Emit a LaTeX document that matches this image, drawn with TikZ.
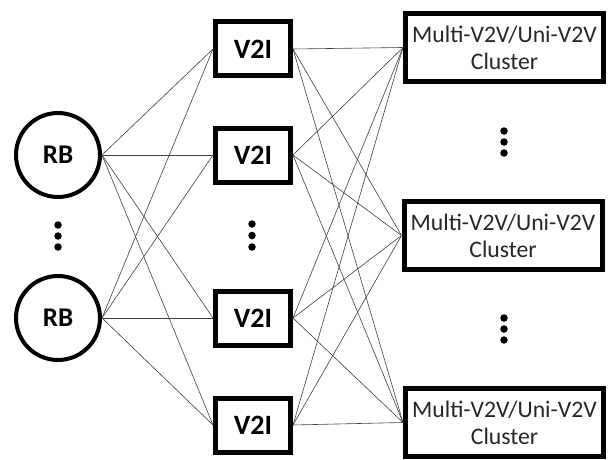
\documentclass[tikz,border=0pt]{standalone}
\usepackage{fontspec}
\setmainfont{Carlito}
\begin{document}
\begin{tikzpicture}[x=1pt,y=-1pt,
  rbnode/.style={circle,draw,line width=4pt,minimum size=84pt,inner sep=0pt,font=\fontsize{27}{32}\selectfont\bfseries},
  vnode/.style={rectangle,draw,line width=5pt,minimum width=75pt,minimum height=54pt,inner sep=0pt,font=\fontsize{28}{32}\selectfont\bfseries},
  cnode/.style={rectangle,draw,line width=5pt,minimum width=198pt,minimum height=68pt,inner sep=0pt,align=center,text=black!85,font=\fontsize{23.7}{27}\selectfont},
  link/.style={draw=black!75,line width=0.6pt},
  vdot/.style={circle,fill=black,inner sep=0pt,minimum size=7.5pt}]
\useasboundingbox (0,0) rectangle (608,460);
\node[rbnode] (rb1) at (58,155) {RB};
\node[rbnode] (rb2) at (58,318) {RB};
\node[vnode] (v1) at (253,49) {V2I};
\node[vnode] (v2) at (253,155) {V2I};
\node[vnode] (v3) at (253,318) {V2I};
\node[vnode] (v4) at (253,425) {V2I};
\node[cnode] (c1) at (504.5,47.5) {Multi-V2V/Uni-V2V\\Cluster};
\node[cnode] (c2) at (503,235.5) {Multi-V2V/Uni-V2V\\Cluster};
\node[cnode] (c3) at (504.5,422.5) {Multi-V2V/Uni-V2V\\Cluster};
\foreach \r in {rb1,rb2}{
  \foreach \v in {v1,v2,v3,v4}{
    \draw[link] (\r.east) -- (\v.west);
  }
}
\foreach \v in {v1,v2,v3,v4}{
  \foreach \c in {c1,c2,c3}{
    \draw[link] (\v.east) -- (\c.west);
  }
}
\node[vdot] (d1a) at (58,225) {};
\node[vdot] (d1b) at (58,236) {};
\node[vdot] (d1c) at (58,247) {};
\node[vdot] (d2a) at (252,224) {};
\node[vdot] (d2b) at (252,235.5) {};
\node[vdot] (d2c) at (252,247) {};
\node[vdot] (d3a) at (504,131) {};
\node[vdot] (d3b) at (504,142) {};
\node[vdot] (d3c) at (504,153) {};
\node[vdot] (d4a) at (504,318) {};
\node[vdot] (d4b) at (504,329) {};
\node[vdot] (d4c) at (504,340) {};
\end{tikzpicture}
\end{document}
